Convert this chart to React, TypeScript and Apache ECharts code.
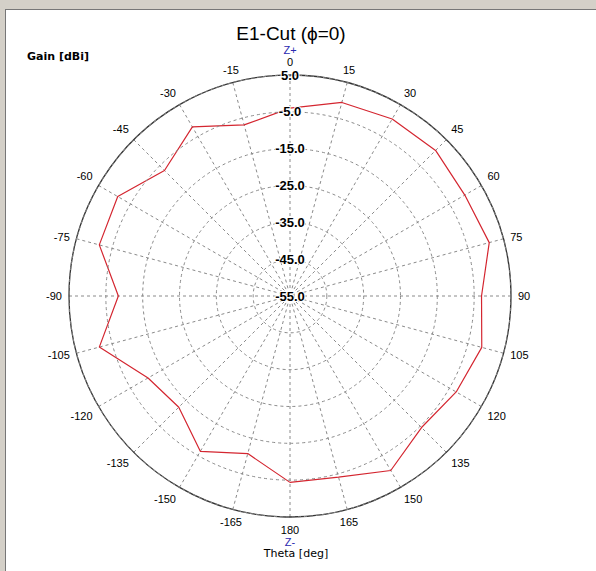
import React, { useEffect, useRef } from "react";
import * as echarts from "echarts";

// Theta (deg) and gain (dBi)
const thetaDeg = [0, 15, 30, 45, 60, 75, 90, 105, 120, 135, 150, 165, 180, -165, -150, -135, -120, -105, -90, -75, -60, -45, -30, -15];
const gainDbi = [-4.0, -0.6, 0.5, 0.9, -0.2, 1.0, -3.0, -1.1, -2.9, -4.5, -0.3, -4.1, -4.4, -10.7, -6.3, -12.3, -10.5, -1.4, -8.4, -1.4, -1.0, -6.8, -2.0, -6.9];

const radiusMin = -55;
const radiusMax = 5;
const radiusStep = 10;
const angleStep = 15;

const titleText = "E1-Cut (\u03d5=0)";
const yTitle = "Gain [dBi]";
const xTitle = "Theta [deg]";

export default function App() {
  const ref = useRef<HTMLDivElement>(null);

  useEffect(() => {
    if (!ref.current) return;
    const chart = echarts.init(ref.current, null, { renderer: "svg" });
    const pts = thetaDeg.map((t, i) => [gainDbi[i], t < 0 ? t + 360 : t]);
    pts.push([gainDbi[0], 360]);

    chart.setOption({
      animation: false,
      backgroundColor: "transparent",
      title: [
        {
          text: titleText,
          left: 291,
          top: 23,
          padding: 0,
          textAlign: "center",
          textStyle: { fontSize: 19, lineHeight: 20, fontWeight: "normal", color: "#000", fontFamily: "Liberation Sans" },
        },
        {
          text: yTitle,
          left: 22,
          top: 46,
          textStyle: { fontSize: 11, fontWeight: "bold", color: "#000", fontFamily: "DejaVu Sans" },
        },
        {
          text: xTitle,
          left: 291,
          top: 543,
          textAlign: "center",
          textStyle: { fontSize: 11, fontWeight: "normal", color: "#000", fontFamily: "DejaVu Sans" },
        },
      ],
      polar: { center: [290, 296], radius: 221 },
      angleAxis: {
        type: "value",
        min: 0,
        max: 360,
        interval: angleStep,
        startAngle: 90,
        clockwise: true,
        axisLine: { show: true, lineStyle: { color: "#333", width: 1.3 } },
        axisTick: { show: false },
        axisLabel: {
          margin: 7,
          color: "#000",
          fontSize: 11,
          fontFamily: "Liberation Sans",
          formatter: (v: number) => {
            if (v === 360) return "";
            if (v === 0) return "{z|Z+}\n0";
            if (v === 180) return "180\n{z|Z-}";
            return String(v > 180 ? v - 360 : v);
          },
          rich: {
            z: { color: "#2a2ab0", fontSize: 11, fontFamily: "Liberation Sans", lineHeight: 12 },
          },
          lineHeight: 12,
        },
        splitLine: { show: true, lineStyle: { color: "#8a8a8a", type: [3, 3], width: 1 } },
      },
      radiusAxis: {
        type: "value",
        min: radiusMin,
        max: radiusMax,
        interval: radiusStep,
        axisLine: { show: false },
        axisTick: { show: false },
        axisLabel: {
          margin: 0,
          align: "center",
          verticalAlign: "middle",
          lineHeight: 12,
          color: "#000",
          fontSize: 13,
          fontWeight: "bold",
          fontFamily: "Liberation Sans",
          textBorderColor: "#fff",
          textBorderWidth: 2,
          formatter: (v: number) => v.toFixed(1),
        },
        splitLine: { show: true, lineStyle: { color: "#8a8a8a", type: [3, 3], width: 1 } },
        z: 5,
      },
      series: [
        {
          type: "line",
          coordinateSystem: "polar",
          data: pts,
          symbol: "none",
          lineStyle: { color: "#d42630", width: 1.2 },
        },
      ],
    });
    return () => chart.dispose();
  }, []);

  return (
    <div style={{ position: "fixed", left: 0, top: 0, width: 596, height: 571, background: "#d4d0c8", overflow: "hidden" }}>
      <div
        style={{
          position: "absolute",
          left: 5,
          top: 9,
          right: 0,
          bottom: 0,
          background: "#fff",
          borderTop: "1px solid #777",
          borderLeft: "1px solid #777",
        }}
      />
      <div ref={ref} style={{ position: "absolute", left: 0, top: 0, width: 596, height: 571 }} />
    </div>
  );
}
